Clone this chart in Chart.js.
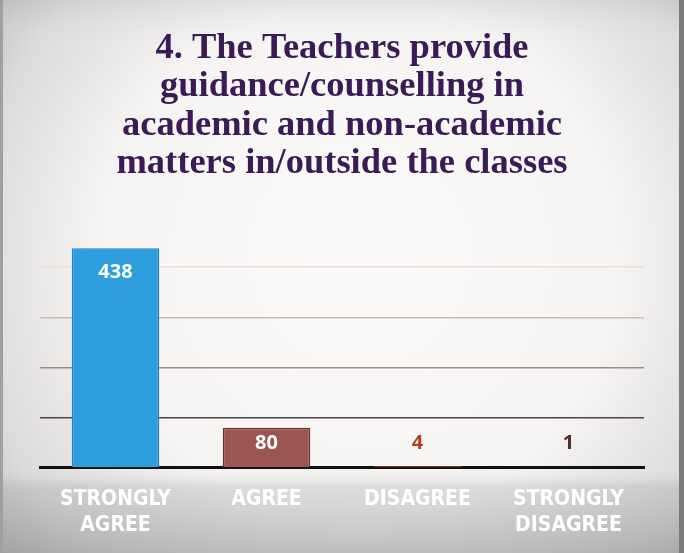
<!DOCTYPE html>
<html>
<head>
<meta charset="utf-8">
<script src="https://cdn.jsdelivr.net/npm/chart.js@4/dist/chart.umd.min.js"></script>
<style>
  html, body { margin: 0; padding: 0; background: #e8e6e4; }
  #wrap { width: 684px; height: 553px; position: relative; }
</style>
</head>
<body>
<div id="wrap"><canvas id="c" width="684" height="553"></canvas></div>
<script>
const titleLines = ["4. The Teachers provide", "guidance/counselling in", "academic and non-academic", "matters in/outside the classes"];
const categories = [["STRONGLY", "AGREE"], ["AGREE"], ["DISAGREE"], ["STRONGLY", "DISAGREE"]];
const responses = [438, 80, 4, 1];
const barColors = ["#2e9fdc", "#9b5651", "#b8421f", "#5e2c2c"];
const barBorders = ["#1f80c2", "#6e302c", "#8e2e14", "#3e1a1a"];
const labelColors = ["#ffffff", "#ffffff", "#b8401f", "#5b2b2b"];
const yTicks = [0, 100, 200, 300, 400, 500];

const bgPlugin = {
  id: 'bg',
  beforeDraw(chart) {
    const ctx = chart.ctx, w = chart.width, h = chart.height;
    ctx.save();
    const rg = ctx.createRadialGradient(360, 250, 40, 360, 270, 480);
    rg.addColorStop(0, '#fbfaf8');
    rg.addColorStop(0.5, '#f6f4f2');
    rg.addColorStop(0.8, '#dddbd9');
    rg.addColorStop(1, '#b8b7b6');
    ctx.fillStyle = rg;
    ctx.fillRect(0, 0, w, h);
    const lg = ctx.createLinearGradient(0, 0, 0, h);
    lg.addColorStop(0, 'rgba(180,178,176,0.25)');
    lg.addColorStop(0.1, 'rgba(255,255,255,0)');
    lg.addColorStop(0.84, 'rgba(255,255,255,0)');
    lg.addColorStop(0.88, 'rgba(150,148,146,0.25)');
    lg.addColorStop(1, 'rgba(120,118,116,0.4)');
    ctx.fillStyle = lg;
    ctx.fillRect(0, 0, w, h);
    ctx.fillStyle = '#7a7a7a';
    ctx.fillRect(w - 5, 0, 5, h);
    ctx.fillStyle = '#a0a0a0';
    ctx.fillRect(0, 0, 3, h);
    ctx.restore();
  }
};

const valuePlugin = {
  id: 'vals',
  afterDatasetsDraw(chart) {
    const ctx = chart.ctx;
    const meta = chart.getDatasetMeta(0);
    const base = chart.scales.y.getPixelForValue(0);
    ctx.save();
    ctx.font = 'bold 20px "Open Sans", sans-serif';
    ctx.textAlign = 'center';
    ctx.textBaseline = 'middle';
    meta.data.forEach((bar, i) => {
      const y = Math.min(bar.y + 24, base - 25);
      ctx.fillStyle = labelColors[i];
      ctx.fillText(String(responses[i]), bar.x, y);
    });
    ctx.restore();
  }
};

new Chart(document.getElementById('c'), {
  type: 'bar',
  data: {
    labels: categories,
    datasets: [{
      data: responses,
      backgroundColor: barColors,
      borderColor: barBorders,
      borderWidth: 1.5,
      barPercentage: 0.58,
      categoryPercentage: 1.0
    }]
  },
  options: {
    responsive: false,
    animation: false,
    layout: { padding: { left: 40, right: 40, top: 0, bottom: -5 } },
    plugins: {
      legend: { display: false },
      tooltip: { enabled: false },
      title: {
        display: true,
        text: titleLines,
        color: '#3a1b57',
        font: { family: '"Liberation Serif", "Times New Roman", serif', weight: 'bold', size: 36.5, lineHeight: 1.055 },
        padding: { top: 29, bottom: 34 }
      }
    },
    scales: {
      x: {
        grid: { display: false, drawTicks: false },
        border: { display: true, color: '#111111', width: 3 },
        ticks: {
          color: '#ffffff',
          padding: 19,
          maxRotation: 0,
          autoSkip: false,
          font: { family: '"Liberation Sans Narrow", "DejaVu Sans Condensed", sans-serif', weight: 'bold', size: 21, lineHeight: 1.24 }
        }
      },
      y: {
        min: 0,
        max: 500,
        afterBuildTicks(scale) { scale.ticks = yTicks.map(v => ({ value: v })); },
        ticks: { display: false },
        border: { display: false },
        grid: {
          drawTicks: false,
          lineWidth: 1.5,
          color(ctx) {
            const v = ctx.tick && ctx.tick.value;
            if (v === 100) return '#4e4646';
            if (v === 200) return '#9c8c8c';
            if (v === 300) return '#cbbaba';
            if (v === 400) return '#e8dede';
            return 'rgba(0,0,0,0)';
          }
        }
      }
    }
  },
  plugins: [bgPlugin, valuePlugin]
});
</script>
</body>
</html>
